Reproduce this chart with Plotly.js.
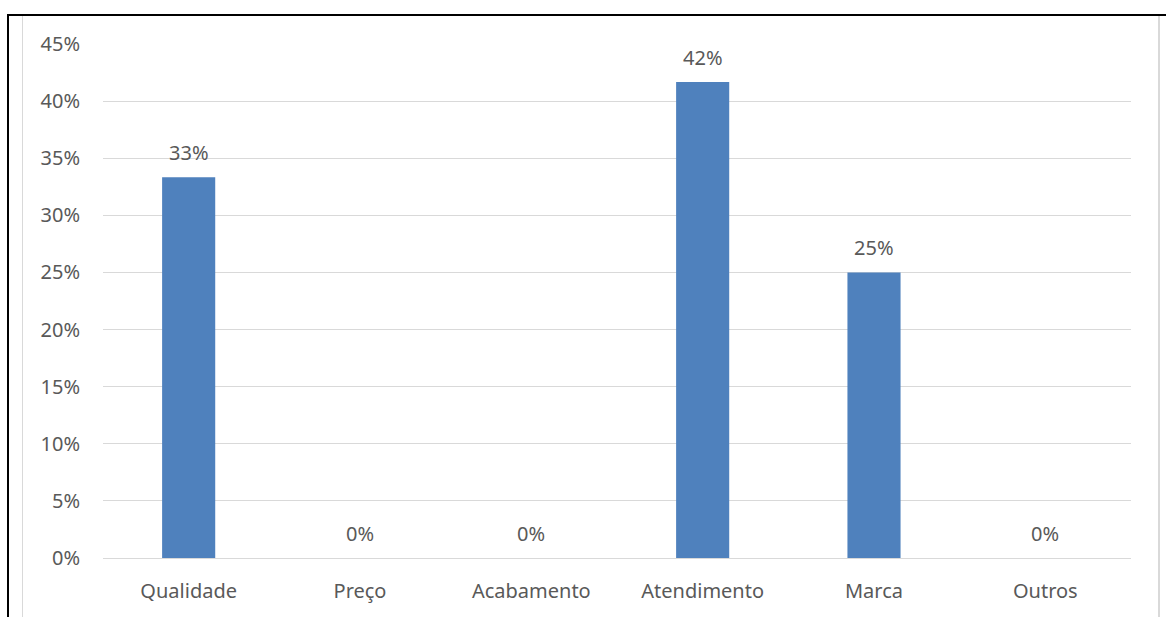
<!DOCTYPE html>
<html><head><meta charset="utf-8">
<script src="https://cdn.plot.ly/plotly-3.0.1.min.js"></script>
<style>
html,body{margin:0;padding:0;background:#fff;}
#wrap{position:relative;width:1166px;height:617px;}
#chart{position:absolute;left:0;top:0;width:1166px;height:617px;}
.ln{position:absolute;}
</style></head>
<body>
<div id="wrap">
<div id="chart"></div>
<div class="ln" style="left:7px;top:14px;width:1159px;height:2px;background:#000;"></div>
<div class="ln" style="left:7px;top:14px;width:2px;height:603px;background:#000;"></div>
<div class="ln" style="left:22px;top:16px;width:1px;height:601px;background:#d9d9d9;"></div>
<div class="ln" style="left:1158px;top:16px;width:2px;height:601px;background:#d9d9d9;"></div>
</div>
<script>
const categories = ["Qualidade","Preço","Acabamento","Atendimento","Marca","Outros"];
const values = [0.3333, 0, 0, 0.4167, 0.25, 0];
const labels = ["33%","0%","0%","42%","25%","0%"];
const yTicks = [0,0.05,0.10,0.15,0.20,0.25,0.30,0.35,0.40,0.45];
const yTickText = ["0%","5%","10%","15%","20%","25%","30%","35%","40%","45%"];

const font = {family:"Noto Sans, Open Sans, sans-serif", size:20, color:"#595959"};

const trace = {
  type:"bar", x:categories, y:values,
  marker:{color:"#4f81bd"}, width:0.31,
  hoverinfo:"none"
};
const annotations = categories.map((c,i)=>({
  x:c, y:values[i], text:labels[i], showarrow:false,
  yanchor:"bottom", yshift:9, font:font
}));
const layout = {
  width:1166, height:617,
  margin:{l:103, r:35, t:44, b:59},
  paper_bgcolor:"rgba(0,0,0,0)", plot_bgcolor:"rgba(0,0,0,0)",
  showlegend:false, bargap:0.69,
  font:font,
  xaxis:{showgrid:false, showline:true, linecolor:"#d9d9d9", linewidth:1,
         ticks:"", ticklabelstandoff:15, tickfont:font, fixedrange:true},
  yaxis:{range:[0,0.45], tickvals:yTicks, ticktext:yTickText,
         showgrid:true, gridcolor:"#d9d9d9", gridwidth:1, zeroline:false,
         showline:false, ticks:"", ticklabelstandoff:22, tickfont:font, fixedrange:true},
  annotations:annotations
};
Plotly.newPlot("chart",[trace],layout,{displayModeBar:false, staticPlot:true});
</script>
</body></html>
